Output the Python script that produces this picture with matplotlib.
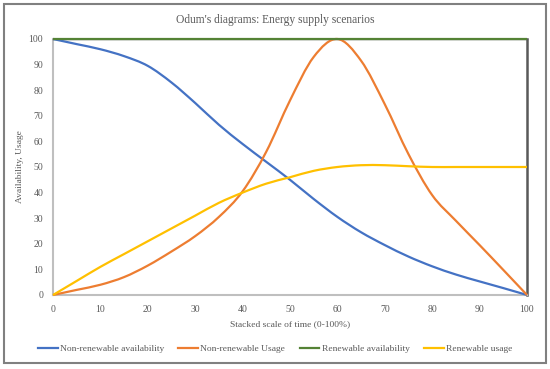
import matplotlib
matplotlib.use("Agg")
import matplotlib.pyplot as plt
from matplotlib.patches import Rectangle, PathPatch
from matplotlib.path import Path
from matplotlib.lines import Line2D

# time axis (stacked scale, %)
time_pct = [0, 5, 10, 15, 20, 25, 30, 35, 40, 45, 50,
            55, 60, 65, 70, 75, 80, 85, 90, 95, 100]

nonren_avail = [100, 98, 96, 93.3, 89.5, 83, 75, 66.5, 59, 52, 45,
                37.5, 30.5, 24.5, 19.5, 15, 11.2, 8, 5.3, 2.7, 0]
nonren_usage = [0, 2, 4, 7, 11.5, 17, 23, 30.5, 40.5, 56, 76,
                93, 100, 91.5, 74.5, 55, 39, 29, 19.5, 9.8, 0]
ren_avail = [100] * len(time_pct)
ren_usage = [0, 5.5, 11, 16, 21, 26, 31, 36, 40, 43.5, 46,
             48.5, 50, 50.7, 50.7, 50.3, 50, 50, 50, 50, 50]

series_names = ["Non-renewable availability", "Non-renewable Usage",
                "Renewable availability", "Renewable usage"]
series_colors = ["#4472C4", "#ED7D31", "#548235", "#FFC000"]

plt.rcParams['font.family'] = ['Liberation Serif', 'DejaVu Serif']
txt_col = "#595959"


def smooth_path(xs, ys):
    # Excel-style smoothed line: cubic bezier through every data point
    verts = [(xs[0], ys[0])]
    codes = [Path.MOVETO]
    n = len(xs)
    for i in range(n - 1):
        x0, y0 = (xs[i - 1], ys[i - 1]) if i > 0 else (xs[i], ys[i])
        x1, y1 = xs[i], ys[i]
        x2, y2 = xs[i + 1], ys[i + 1]
        x3, y3 = (xs[i + 2], ys[i + 2]) if i + 2 < n else (x2, y2)
        c1 = (x1 + (x2 - x0) / 6, y1 + (y2 - y0) / 6)
        c2 = (x2 - (x3 - x1) / 6, y2 - (y3 - y1) / 6)
        verts += [c1, c2, (x2, y2)]
        codes += [Path.CURVE4] * 3
    return Path(verts, codes)


fig = plt.figure(figsize=(5.5, 3.69), dpi=100)
ax = fig.add_axes([53/550, 1-295/369, (527-53)/550, (295-39)/369])

all_series = [nonren_avail, nonren_usage, ren_avail, ren_usage]
handles = []
for vals, name, col in zip(all_series, series_names, series_colors):
    patch = PathPatch(smooth_path(time_pct, vals), facecolor="none", edgecolor=col,
                      lw=1.6, clip_on=False, zorder=3)
    ax.add_patch(patch)
    handles.append(Line2D([], [], color=col, lw=1.6, label=name))

ax.set_xlim(0, 100)
ax.set_ylim(0, 100)
ax.set_xticks(range(0, 101, 10))
ax.set_yticks(range(0, 101, 10))
ax.tick_params(length=0, labelsize=7, colors=txt_col, pad=7)

for s in ["left", "bottom"]:
    ax.spines[s].set_color("#BFBFBF")
    ax.spines[s].set_linewidth(1.5)
ax.spines["right"].set_color("#595959")
ax.spines["right"].set_linewidth(1.8)
ax.spines["top"].set_color("#595959")
ax.spines["top"].set_linewidth(1.0)

ax.set_xlabel("Stacked scale of time (0-100%)", fontsize=6.8, color=txt_col, labelpad=5)
ax.set_ylabel("Availability, Usage", fontsize=6.8, color=txt_col, labelpad=3)

fig.text(0.5, 1-20/369, "Odum's diagrams: Energy supply scenarios",
         ha="center", va="center", fontsize=8.3, color=txt_col)

leg = fig.legend(handles=handles, loc="center", bbox_to_anchor=(0.5, 1-349/369), ncol=4,
                 frameon=False, fontsize=6.8, handlelength=2.1,
                 handletextpad=0.25, columnspacing=1.5)
for t in leg.get_texts():
    t.set_color(txt_col)

# outer chart border
fig.patches.append(Rectangle((4/550, 6/369), 542/550, 359/369, transform=fig.transFigure,
                             fill=False, edgecolor="#808080", lw=1.5))

fig.savefig("out.png", dpi=100)
